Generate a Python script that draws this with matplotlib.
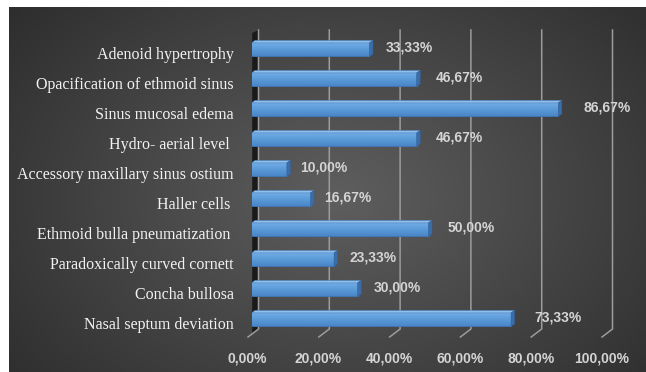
import numpy as np
import matplotlib
matplotlib.use("Agg")
import matplotlib.pyplot as plt
from matplotlib.patches import Polygon
from matplotlib.transforms import offset_copy
from matplotlib.colors import LinearSegmentedColormap

categories = ["Adenoid hypertrophy", "Opacification of ethmoid sinus", "Sinus mucosal edema",
              "Hydro- aerial level ", "Accessory maxillary sinus ostium", "Haller cells ",
              "Ethmoid bulla pneumatization ", "Paradoxically curved cornett", "Concha bullosa",
              "Nasal septum deviation"]
values = [33.33, 46.67, 86.67, 46.67, 10.00, 16.67, 50.00, 23.33, 30.00, 73.33]
ticks = [0, 20, 40, 60, 80, 100]

W, H = 646, 372
fig = plt.figure(figsize=(W / 100, H / 100), dpi=100)
fig.patch.set_facecolor("white")

# background with radial gradient
bg = fig.add_axes([9 / W, 0, 1 - 9 / W, 1 - 7 / H])
bg.set_axis_off()
gy, gx = np.mgrid[0:365, 0:637]
r = np.sqrt(((gx - 330) / 420.0) ** 2 + ((gy - 190) / 300.0) ** 2)
r = np.clip(r, 0, 1)
c_in, c_out = np.array([0.37, 0.37, 0.37]), np.array([0.18, 0.18, 0.18])
img = c_in[None, None, :] * (1 - r[..., None]) + c_out[None, None, :] * r[..., None]
bg.imshow(img, aspect="auto", extent=[0, 1, 0, 1])
bg.set_xlim(0, 1)
bg.set_ylim(0, 1)

# main axes: x in percent, y in category rows (px mapping 0% -> 251.5, 100% -> 605.5)
ax = fig.add_axes([251.5 / W, (H - 334.7) / H, 354 / W, 300 / H])
ax.set_axis_off()
ax.patch.set_alpha(0)
kx = 100 / 354.0   # data units per pixel (x)
ky = 1 / 30.0      # rows per pixel (y)

y_top, y_back, y_front = -0.657, 9.31, 9.577

# left wall
ax.add_patch(Polygon([(0.2, y_top + 0.1), (7 * kx, y_top), (7 * kx, y_back), (0.2, y_back + 0.15)],
                     closed=True, facecolor="#1a1a1a", edgecolor="none", clip_on=False, zorder=1))

# gridlines (back wall + floor diagonal)
for t in ticks:
    xb = t + 7 * kx
    xf = t - 3.5 * kx
    ax.plot([xb, xb, xf], [y_top, y_back, y_front], color="#9c9c9c", lw=1.1,
            clip_on=False, zorder=2, solid_joinstyle="miter")

# bars
cmap = LinearSegmentedColormap.from_list("bar", ["#76b0e8", "#5b9bd8", "#4a86c8"])
grad = np.linspace(0, 1, 64).reshape(-1, 1)
h = 0.45
dx, dy = 3.5 * kx, 2.5 * ky
for i, v in enumerate(values):
    bars = ax.barh(i, v, height=h, color="#5b9bd5", edgecolor="#3f75b5", lw=0.6, zorder=4)
    im = ax.imshow(grad, cmap=cmap, aspect="auto", extent=[0, v, i + h / 2, i - h / 2],
                   zorder=4.5, interpolation="bilinear")
    im.set_clip_path(bars[0])
    top = i - h / 2
    bot = i + h / 2
    ax.add_patch(Polygon([(0, top), (v, top), (v + dx, top - dy), (dx, top - dy)],
                         facecolor="#8fc0ec", edgecolor="#4a80bf", lw=0.4, zorder=5))
    ax.add_patch(Polygon([(v, top), (v, bot), (v + dx, bot - dy), (v + dx, top - dy)],
                         facecolor="#3b6ea8", edgecolor="#33609a", lw=0.4, zorder=5))
    lab = f"{v:.2f}%".replace(".", ",")
    tr = offset_copy(ax.transData, fig=fig, x=11.5 + 0.155 * v, y=2, units="dots")
    ax.text(v, i, lab, transform=tr, ha="left", va="center", fontsize=10,
            family="Liberation Sans", weight="bold", color="#d4d4d4", zorder=6)

ax.set_xlim(0, 100)
ax.set_ylim(9.5, -0.5)

# category labels
tr_cat = offset_copy(ax.transData, fig=fig, x=-17.5, y=-5, units="dots")
for i, name in enumerate(categories):
    ax.text(0, i, name, transform=tr_cat, ha="right", va="center", fontsize=11.5,
            family="Liberation Serif", color="#f2f2f2")

# x tick labels
tr_tick = offset_copy(ax.transData, fig=fig, x=-4, y=0, units="dots")
for t in ticks:
    ax.text(t, 10.277, f"{t:.2f}%".replace(".", ","), transform=tr_tick, ha="center",
            va="center", fontsize=10, family="Liberation Sans", weight="bold",
            color="#d4d4d4", clip_on=False)

fig.savefig("out.png", dpi=100)
